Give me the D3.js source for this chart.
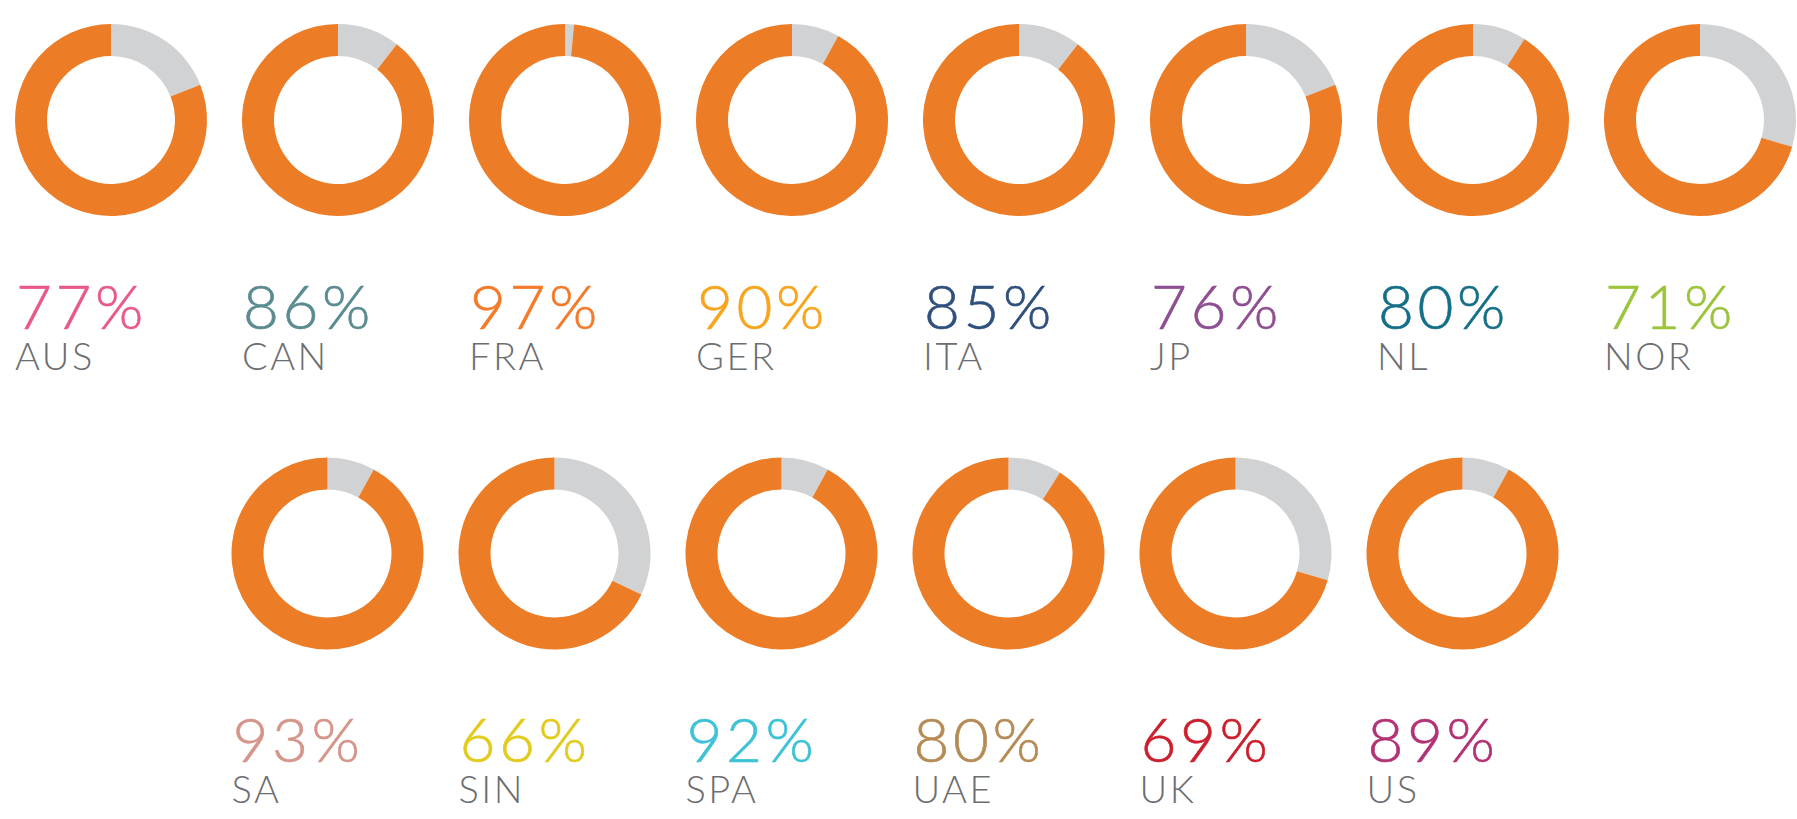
<!DOCTYPE html>
<html>
<head>
<meta charset="utf-8">
<script src="https://cdn.jsdelivr.net/npm/d3@7"></script>
<style>
  html, body { margin: 0; padding: 0; background: #fff; }
  svg { display: block; }
  text { font-family: "Lato", "Open Sans", sans-serif; font-weight: 300; }
</style>
</head>
<body>
<div id="chart"></div>
<script>
const width = 1797;
const height = 819;

// countries in reading order (row 1: 8, row 2: 6)
const countries = ["AUS", "CAN", "FRA", "GER", "ITA", "JP", "NL", "NOR",
                   "SA", "SIN", "SPA", "UAE", "UK", "US"];
// percentages printed under each donut
const labelValues = [77, 86, 97, 90, 85, 76, 80, 71,
                     93, 66, 92, 80, 69, 89];
// orange share drawn in each donut (read from the rings)
const ringValues = [81, 89.5, 98.5, 92, 89.5, 81, 91, 70.5,
                    92, 68, 92, 91, 70.5, 92];
const labelColors = ["#e9588b", "#5a8b90", "#f47a2a", "#f8a51d", "#2f4f7d", "#8d4f92", "#146f88", "#9cc43c",
                     "#d5958a", "#e2cb1d", "#3fc2d6", "#b58b55", "#cc1f2e", "#b23274"];
const rowSizes = [8, 6];

const data = countries.map((c, i) => {
    const row = i < rowSizes[0] ? 0 : 1;
    const col = row === 0 ? i : i - rowSizes[0];
    return { country: c, label: labelValues[i], ring: ringValues[i], color: labelColors[i], row, col };
});

const outerR = 96;
const innerR = 64;

const svg = d3.select("#chart").append("svg")
    .attr("width", width)
    .attr("height", height);

// column positions per row
const xTop = d3.scaleLinear().domain([0, 7]).range([111, 1700]);
const xBottom = d3.scaleLinear().domain([0, 5]).range([327.5, 1462.5]);
const yRow = d3.scaleLinear().domain([0, 1]).range([120, 553.5]);

const pie = d3.pie().sort(null).value(d => d.v);
const arc = d3.arc().innerRadius(innerR).outerRadius(outerR);

const groups = svg.selectAll("g.donut")
    .data(data)
    .join("g")
    .attr("class", "donut")
    .attr("transform", d => `translate(${d.row === 0 ? xTop(d.col) : xBottom(d.col)}, ${yRow(d.row)})`);

// grey remainder first (from 12 o'clock), then orange share
groups.selectAll("path")
    .data(d => pie([{ k: "rest", v: 100 - d.ring }, { k: "share", v: d.ring }]))
    .join("path")
    .attr("d", arc)
    .attr("fill", s => s.data.k === "share" ? "#ec7c25" : "#d1d2d4");

groups.append("text")
    .attr("x", -outerR + 1)
    .attr("y", 208.5)
    .attr("font-size", 62)
    .attr("letter-spacing", 3.5)
    .attr("fill", d => d.color)
    .attr("stroke", d => d.color)
    .attr("stroke-width", 0.6)
    .text(d => d.label + "%");

groups.append("text")
    .attr("x", -outerR)
    .attr("y", 249.5)
    .attr("font-size", 38)
    .attr("letter-spacing", 2.5)
    .attr("fill", "#6d6e71")
    .text(d => d.country);
</script>
</body>
</html>
